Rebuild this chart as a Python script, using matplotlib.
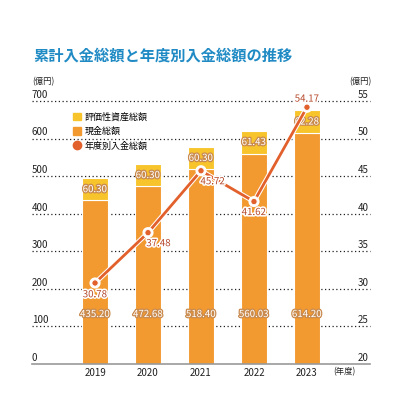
import matplotlib
matplotlib.use("Agg")
import matplotlib.pyplot as plt
import matplotlib.patheffects as pe
from matplotlib.patches import Patch
from matplotlib.lines import Line2D
import numpy as np

plt.rcParams['font.family'] = ['Noto Sans CJK JP', 'DejaVu Sans']

years = ['2019', '2020', '2021', '2022', '2023']
cash = [435.20, 472.68, 518.40, 560.03, 614.20]
valuation = [60.30, 60.30, 60.30, 61.43, 62.28]
annual = [30.78, 37.48, 45.72, 41.62, 54.17]
left_ticks = [0, 100, 200, 300, 400, 500, 600, 700]
right_ticks = [20, 25, 30, 35, 40, 45, 50, 55]

c_cash = '#F29A30'
c_val = '#F8C42C'
c_line = '#E2602C'
c_lbl = '#B5482A'

fig = plt.figure(figsize=(4, 4), dpi=100)
ax = fig.add_axes([0.08, 0.09, 0.845, 0.6575])
ax2 = ax.twinx()

x = np.arange(len(years))
ax.bar(x, cash, width=0.49, color=c_cash, edgecolor='white', linewidth=0.8, zorder=2)
ax.bar(x, valuation, width=0.49, bottom=cash, color=c_val, edgecolor='white', linewidth=0.8, zorder=2)

ax.set_xlim(-1.19, 5.19)
ax.set_ylim(0, 700)
ax2.set_ylim(20, 55)

for t in left_ticks[1:]:
    ax.axhline(t, color='#222222', linestyle=(0, (1, 2)), linewidth=0.9, zorder=1, clip_on=False)
ax.axhline(0, color='#999999', linewidth=1.2, zorder=3, clip_on=False)

for t in left_ticks:
    ax.text(0.0, t + 3, str(t), transform=ax.get_yaxis_transform(), fontsize=7,
            ha='left', va='bottom', color='#222222')
for t in right_ticks:
    ax2.text(0.995, t + 0.15, str(t), transform=ax2.get_yaxis_transform(), fontsize=7,
             ha='right', va='bottom', color='#222222')

for a in (ax, ax2):
    for s in a.spines.values():
        s.set_visible(False)
    a.set_yticks([])
ax.set_xticks(x)
ax.set_xticklabels(years, fontsize=7, color='#222222')
ax.tick_params(axis='x', length=0, pad=3)

# bar labels
bar_fx = [pe.withStroke(linewidth=1.8, foreground='#C98A4E')]
for i in range(len(years)):
    ax.text(x[i], 133, f'{cash[i]:.2f}', ha='center', va='center', fontsize=7,
            color='white', path_effects=bar_fx, zorder=5)
    ax.text(x[i], cash[i] + valuation[i] / 2, f'{valuation[i]:.2f}', ha='center', va='center',
            fontsize=7, color='white', path_effects=bar_fx, zorder=5)

# line
ax2.plot(x, annual, color=c_line, linewidth=2, marker='o', markersize=4.5,
         markerfacecolor=c_line, markeredgecolor='white', markeredgewidth=0.6, zorder=6,
         path_effects=[pe.Stroke(linewidth=3.5, foreground='white'), pe.Normal()])

offsets = [(0, -1.5), (0.2, -1.4), (0.22, -1.4), (0, -1.4), (0, 1.15)]
lbl_fx = [pe.withStroke(linewidth=2.2, foreground='white')]
for i in range(len(years)):
    dx, dy = offsets[i]
    ax2.text(x[i] + dx, annual[i] + dy, f'{annual[i]:.2f}', ha='center', va='center',
             fontsize=7, color=c_lbl, path_effects=lbl_fx, zorder=7)

handles = [Patch(color=c_val), Patch(color=c_cash),
           Line2D([], [], marker='o', linestyle='none', color=c_line, markersize=6)]
labels = ['評価性資産総額', '現金総額', '年度別入金総額']
ax.legend(handles, labels, loc='upper left', bbox_to_anchor=(0.11, 0.97), frameon=False,
          fontsize=6.5, handlelength=0.9, handleheight=0.9, handletextpad=0.4,
          labelspacing=0.6, borderaxespad=0)

fig.text(0.083, 0.862, '累計入金総額と年度別入金総額の推移', fontsize=11, fontweight='bold',
         color='#1F8AC4', ha='left', va='center')
fig.text(0.08, 0.795, '(億円)', fontsize=6, color='#222222', ha='left', va='center')
fig.text(0.93, 0.795, '(億円)', fontsize=6, color='#222222', ha='right', va='center')
fig.text(0.862, 0.07, '(年度)', fontsize=6, color='#222222', ha='center', va='center')

fig.savefig('out.png', dpi=100, facecolor='white')
